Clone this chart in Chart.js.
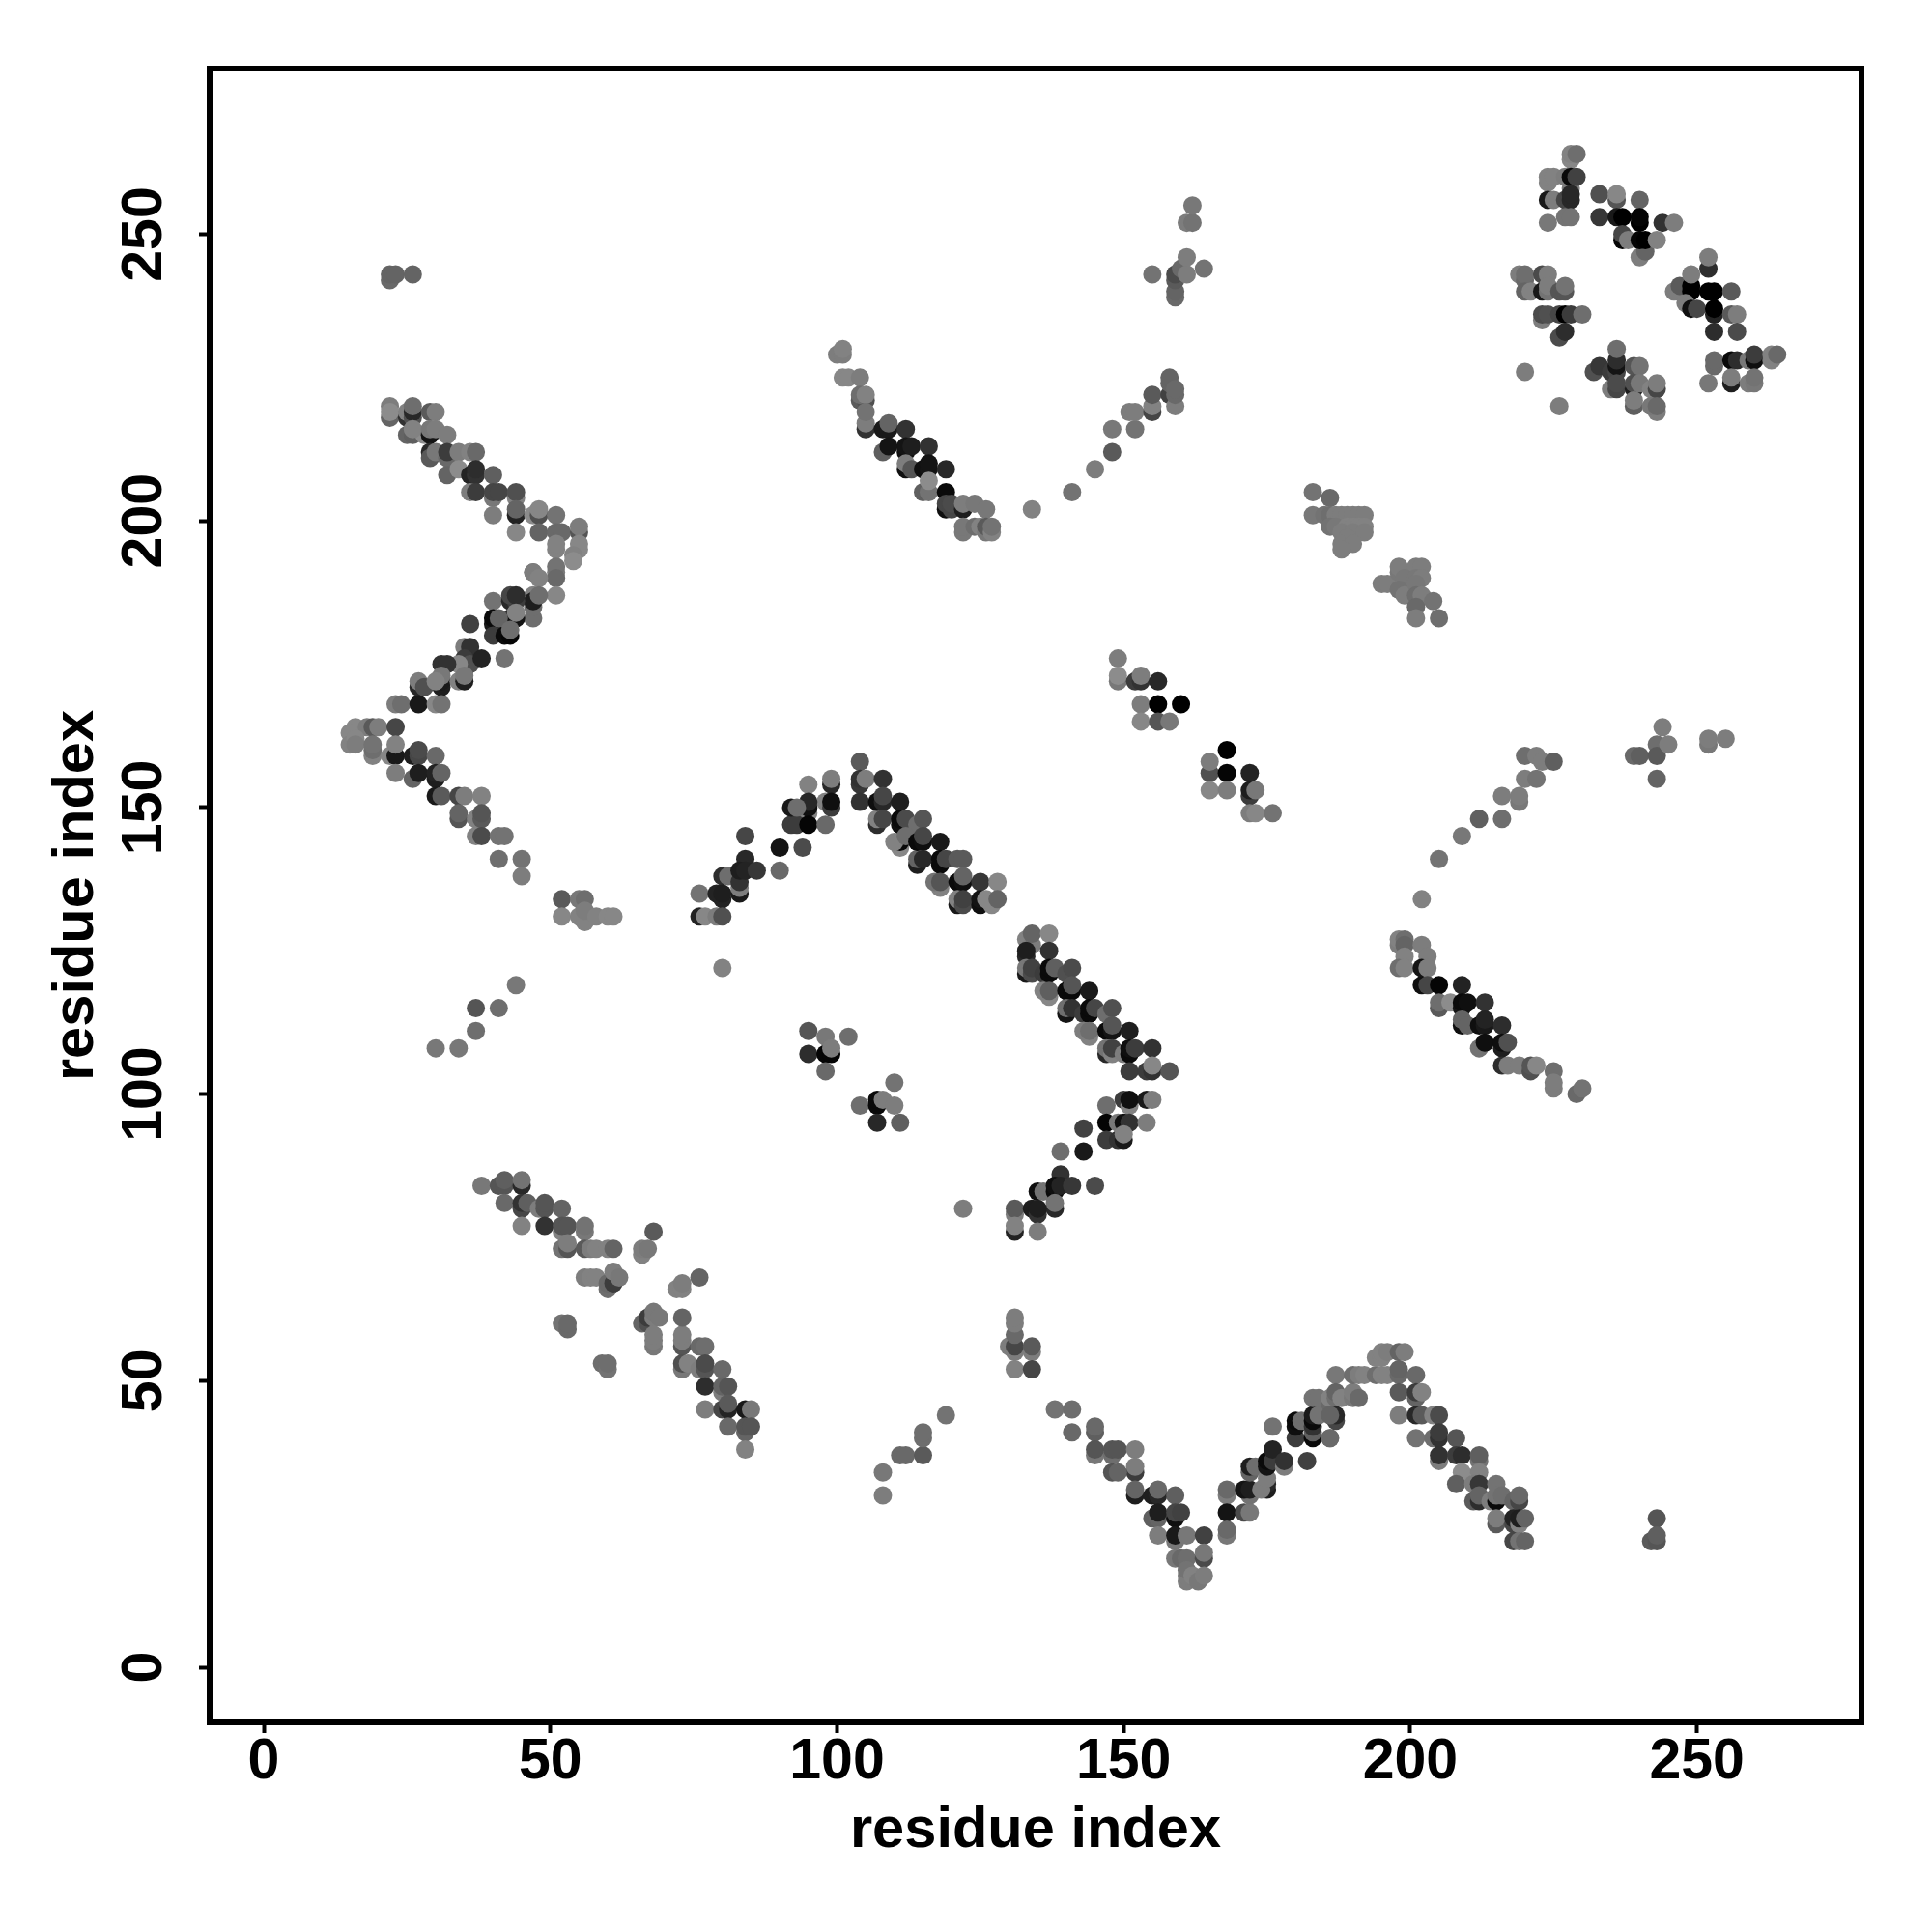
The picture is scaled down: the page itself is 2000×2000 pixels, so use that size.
<!DOCTYPE html>
<html>
<head>
<meta charset="utf-8">
<title>residue contact map</title>
<script src="https://cdn.jsdelivr.net/npm/chart.js@4/dist/chart.umd.min.js"></script>
<style>
  html, body { margin: 0; padding: 0; background: #fff; }
  canvas { display: block; }
</style>
</head>
<body>
<canvas id="contactMap" width="2000" height="2000"></canvas>
<script>
// every contact is [residue i, residue j, gray level], later rows sit on top
const tickValues = [0, 50, 100, 150, 200, 250];
const axisTitle = "residue index";

const topLeftBlob = [[22,242,105],[22,243,100],[23,243,100],[26,243,100]];

const upperLeftArm = [
  [22,218,100],[22,220,125],[22,219,140],[25,218,50],[25,219,130],[26,218,80],[26,219,40],[26,220,110],
  [25,215,100],[26,215,95],[28,215,140],[26,216,130],[29,219,90],[30,219,125],[29,215,20],[29,216,120],[30,216,125],
  [32,215,125],[29,212,40],[29,211,90],[30,212,120],[32,211,105],[32,212,60],[34,212,125],[36,212,130],[37,212,105],
  [32,208,100],[34,209,140],[36,208,35],[37,208,50],[37,209,45],[40,208,95],[36,205,125],[37,205,60],
  [40,204,120],[40,205,70],[41,205,70],[44,204,130],[44,205,80],[40,201,125],[44,201,35],[44,202,100],[44,198,135],
  [47,201,140],[48,201,80],[48,202,135],[51,201,115],[48,198,100],[51,198,105],[52,198,105],[55,198,85],[55,199,125],
  [51,195,130],[51,196,130],[55,195,135],[55,196,135],[54,194,130],[47,191,120],[51,191,125],[51,192,115]
];

const lowerLeftArm = [
  [51,190,105],[47,191,125],[48,190,130],[54,193,140],[51,187,135],[47,187,130],[47,183,110],[47,185,110],[47,186,30],[48,187,110],
  [40,186,115],[44,183,20],[43,183,15],[43,186,40],[44,186,60],[43,187,70],[44,187,45],[44,184,130],
  [40,182,25],[40,183,10],[41,183,100],[40,180,60],[42,180,10],[43,180,5],[43,181,110],[36,182,65],
  [35,178,125],[36,178,50],[42,176,115],[35,174,25],[35,175,20],[35,176,60],[36,175,80],[38,176,35],[34,175,135],
  [31,175,50],[32,175,50],[31,171,30],[31,172,25],[31,173,120],[34,172,130],[35,172,30],[35,173,120],
  [27,171,40],[27,172,125],[28,171,80],[30,172,130],[23,168,125],[24,168,110],[27,168,25],[30,168,135],[31,168,115],
  [16,164,135],[15,163,135],[18,164,125],[19,164,90],[20,164,125],[23,164,70],[15,161,130],[16,162,135],[16,161,125],
  [19,159,130],[19,160,110],[19,161,115],[22,159,135],[23,159,25],[23,161,130],[26,159,30],[27,159,70],[27,160,75],[30,159,105],
  [23,156,125],[26,155,100],[27,156,30],[30,155,30],[30,156,35],[31,156,100],[30,152,25],[31,152,90],[34,152,70],[35,152,125],[38,152,130],
  [34,148,85],[34,149,100],[37,148,130],[38,148,90],[38,149,85],[37,145,130],[38,145,75],[41,145,115],[42,145,115],
  [41,141,110],[45,141,115],[45,138,125]
];

const leftStray = [
  [30,108,120],[34,108,120],[37,111,110],[37,115,85],[41,115,110],[44,119,120],
  [52,134,90],[55,134,120],[56,134,110],[52,131,135],[55,131,130],[56,130,130],[56,132,125],[58,131,130],[60,131,135],[61,131,135]
];

const centerPeakLeft = [
  [99,154,40],[99,155,125],[95,154,130],[98,151,130],[99,150,60],[99,151,15],[95,149,130],[95,150,15],[95,151,40],
  [92,147,60],[93,147,60],[92,150,25],[93,150,110],[95,147,5],[98,147,105],[84,145,70],[90,143,20],[94,143,75],[90,139,105],
  [84,141,40],[80,138,45],[81,138,110],[83,135,25],[83,136,125],[83,137,50],[83,139,30],[84,139,35],[86,139,55],
  [76,135,115],[79,135,35],[80,134,35],[80,135,30],[76,131,35],[77,131,135],[79,131,125],[80,131,80],[80,122,130]
];

const centerPeakRight = [
  [104,158,90],[104,154,55],[104,155,50],[105,155,125],[104,151,50],[108,155,50],
  [107,147,45],[107,148,130],[107,151,15],[108,151,40],[108,152,70],[111,151,30],[108,148,70],
  [111,147,15],[111,148,10],[112,148,75],[114,147,110],[115,148,85],[111,143,135],[111,144,10],[110,144,130],[112,145,110],
  [114,140,30],[114,141,100],[114,144,10],[115,144,15],[115,145,70],[118,144,25],[115,141,40],
  [118,140,10],[118,141,10],[119,141,70],[121,141,90],[122,141,90],[118,136,130],[117,137,115],[118,137,85],
  [121,137,10],[122,137,15],[122,138,100],[125,137,55],[128,137,135],[121,133,25],[121,134,130],[122,133,75],[122,134,65],
  [125,133,15],[125,134,20],[127,133,135],[126,134,135],[128,134,100]
];

const centerStray = [
  [95,111,85],[98,110,120],[102,110,110],[95,107,45],[98,107,5],[99,107,5],[99,108,125],[98,104,105],
  [110,102,115],[104,98,110],[107,98,10],[107,99,10],[108,99,125],[110,98,125],[107,95,40],[111,95,95]
];

const diagonalRun = [
  [133,127,130],[134,126,125],[134,128,100],[137,128,135],[133,124,40],[133,125,30],[137,125,50],
  [133,121,25],[133,122,120],[134,121,75],[134,122,65],[136,121,60],[137,121,10],[137,122,10],[138,122,95],
  [140,121,80],[141,122,75],[137,117,135],[136,118,130],[137,118,95],[140,118,10],[141,118,10],[141,119,85],[144,118,25],
  [140,114,20],[140,115,110],[141,115,50],[143,114,60],[144,114,10],[144,115,10],[145,115,70],[147,114,110],[148,115,80],
  [144,110,130],[143,111,125],[144,111,110],[147,111,10],[148,111,20],[148,112,85],[151,111,30],
  [147,107,40],[147,108,115],[148,107,130],[148,108,65],[150,107,125],[151,107,10],[151,108,15],[152,108,60],[155,108,50],
  [151,104,60],[154,104,60],[155,104,50],[155,105,135],[158,104,85]
];

const diagonalReturn = [
  [147,98,110],[150,99,60],[151,98,130],[151,99,15],[154,99,25],[155,99,125],[147,95,5],[149,95,120],[150,95,15],[151,95,50],[154,95,125],
  [147,92,60],[149,92,50],[150,92,25],[150,93,130],[143,94,65],[143,90,25],[139,90,110],[145,84,75],[139,86,50],
  [135,83,15],[136,83,115],[138,83,10],[138,84,15],[139,84,35],[141,84,55],[138,80,40],[138,81,115],
  [131,79,125],[131,80,90],[134,80,30],[135,79,50],[135,80,30],[131,76,35],[131,77,130],[135,76,125],[122,80,125]
];

const upperValley = [
  [100,229,125],[101,229,125],[101,230,130],[101,225,135],[102,225,135],[104,225,125],[104,221,90],[105,221,80],[104,222,110],[105,222,130],
  [105,216,50],[105,217,125],[105,219,115],[108,216,25],[109,216,25],[109,217,100],[112,216,50],
  [108,212,95],[109,213,20],[112,212,15],[112,213,20],[113,213,30],[116,213,50],[112,209,15],[112,210,125],[113,209,85],
  [115,209,15],[116,209,20],[116,210,20],[119,209,40],[115,205,95],[116,205,115],[116,207,140],[119,205,10],
  [119,202,15],[119,203,70],[120,202,70],[120,203,75],[122,202,30],[122,203,125],[124,203,120],[126,202,120],
  [122,198,120],[122,199,120],[124,199,110],[125,199,130],[126,198,120],[126,199,90],[127,198,130],[127,199,115],
  [134,202,130],[141,205,115],[145,209,125],[148,212,90],[148,216,120],[152,216,115],[151,219,125],[152,219,125],
  [155,219,70],[155,220,130],[155,222,90],[158,222,65],[158,224,100],[158,225,100],[159,220,125],[159,222,105],[159,223,105]
];

const upperTip = [
  [155,243,115],[159,239,105],[159,240,100],[159,242,90],[159,243,75],[160,244,105],[161,243,125],[161,246,125],
  [164,244,115],[161,252,125],[162,252,115],[162,255,120]
];

const midUpperPatch = [
  [183,205,115],[186,204,105],[183,201,120],[185,201,115],[186,201,110],[187,201,125],[188,201,125],[189,201,125],[190,201,125],[191,201,125],[192,201,125],
  [186,199,115],[187,199,120],[189,199,130],[190,199,130],[191,199,130],[192,199,130],[188,198,125],[190,198,125],[192,198,125],[189,197,125],[188,196,125],[190,196,125],[188,195,125],
  [195,189,125],[196,189,125],[198,191,120],[198,192,125],[201,192,125],[202,192,125],[199,190,120],[201,190,120],[202,190,125],
  [198,188,115],[199,187,125],[201,189,120],[201,187,110],[202,187,125],[201,185,105],[204,186,115],[201,183,125],[205,183,110]
];

const midPatches = [
  [149,176,125],[149,172,120],[149,173,140],[152,172,60],[153,172,50],[153,173,125],[156,172,40],
  [153,168,125],[156,168,0],[160,168,0],[153,165,135],[156,165,85],[158,165,120],
  [168,160,0],[165,156,80],[165,158,125],[168,156,5],[172,156,35],[165,153,135],[168,153,125],
  [172,152,60],[172,153,30],[173,153,120],[172,149,125],[173,149,135],[176,149,115]
];

const rightArc = [
  [252,161,120],[252,162,125],[255,162,125],[244,164,125],[243,161,110],[243,155,100],[239,159,105],[240,159,95],[243,159,90],[245,161,125],
  [220,159,110],[222,159,125],[223,158,125],[225,158,95],[220,155,125],[222,155,115],[219,151,120],[219,152,125],[216,152,125],
  [216,148,110],[212,148,95],[209,145,120],[205,141,115],[202,134,130]
];

const rightDiagonal = [
  [198,126,125],[198,127,130],[199,127,110],[199,126,100],[199,124,130],[198,122,110],[199,122,130],[202,126,125],[203,124,125],
  [202,119,15],[202,122,20],[203,122,125],[203,119,70],[205,119,5],[205,115,90],[205,116,110],[207,116,140],[209,119,35],
  [209,115,20],[209,116,10],[210,116,15],[213,116,50],[209,112,15],[209,113,100],[210,112,100],[212,112,15],[213,112,25],[213,113,35],[216,112,45],
  [212,108,115],[213,109,15],[216,108,30],[216,109,15],[217,109,80],[216,105,45],[217,105,125],[219,105,125],[221,104,80],[221,105,85],[222,105,135],
  [225,104,110],[225,101,125],[225,102,125],[229,100,105],[230,101,115]
];

const cornerTop = [
  [228,263,135],[228,264,130],[229,264,110],[224,259,130],[224,260,130],[225,260,130],[227,260,125],[228,258,125],[228,260,10],[229,260,65],
  [224,256,25],[225,256,125],[227,256,70],[228,256,40],[228,257,40],[224,252,120],[227,253,115],[228,253,115],
  [233,257,80],[236,256,85],[236,257,135],[240,256,100],[233,253,55],[236,253,25],[237,253,0],[240,252,0],[240,253,5],[244,252,50],[246,252,125],
  [237,249,5],[237,250,70],[238,249,125],[240,246,125],[241,247,100],[240,249,5],[241,249,0],[243,249,130]
];

const cornerRight = [
  [252,244,45],[252,246,125],[246,240,125],[247,241,90],[249,240,0],[249,241,0],[249,243,125],[252,240,0],[253,240,0],[256,240,90],
  [248,238,125],[249,237,15],[250,237,70],[253,236,35],[253,237,0],[256,236,90],[257,236,125],[253,233,45],[257,233,75]
];

const cornerLeft = [
  [219,243,125],[220,242,105],[220,243,110],[223,243,75],[224,243,125],[220,240,100],[221,240,130],[223,240,25],[224,240,115],[224,241,125],
  [226,240,85],[227,240,85],[227,241,115],[223,235,125],[223,236,75],[224,236,80],[226,236,70],[227,236,0],[228,236,60],[230,236,110],
  [226,232,75],[227,233,45],[220,226,125],[226,220,125]
];

const cornerBottom = [
  [232,226,80],[233,227,55],[235,226,60],[236,226,70],[236,227,20],[236,228,45],[236,230,110],[239,227,85],[240,227,115],
  [235,223,125],[236,223,70],[236,224,75],[239,223,30],[239,224,80],[240,224,120],[242,223,130],[243,223,70],[243,224,125],
  [239,220,95],[239,221,125],[243,219,125],[242,220,120],[243,220,105],
  [253,227,105],[253,228,105],[256,228,10],[257,228,45],[259,228,120],[260,228,15],[260,229,60],[263,228,130],[263,229,130],[264,229,105],
  [252,224,120],[256,224,30],[256,225,125],[259,224,125],[260,224,120],[260,225,115]
];

const lowerLeftBand = [
  [38,84,120],[41,84,85],[42,84,85],[42,85,95],[45,84,40],[45,85,115],[42,81,105],[45,80,70],[45,81,50],[46,81,95],[48,80,125],[49,80,85],[49,81,85],[52,80,100],
  [45,77,130],[49,77,50],[52,76,130],[52,77,85],[53,77,85],[56,76,120],[56,77,115],[52,73,115],[53,73,85],[53,74,125],[56,73,90],[57,73,125],[58,73,130],[60,73,130],[61,73,100],
  [56,68,125],[57,68,130],[58,68,130],[60,66,110],[60,67,105],[61,67,60],[61,69,125],[62,68,120],
  [52,60,115],[53,59,105],[53,60,105],[59,53,110],[60,52,115],[60,53,110],
  [68,76,90],[66,72,130],[66,73,125],[67,73,120],[76,68,100],[72,66,130],[73,66,130],[73,67,125],
  [66,60,100],[67,60,80],[67,61,60],[68,61,125],[68,62,120],[69,61,120],[68,56,120],[68,57,125],[68,58,125],
  [73,56,85],[73,57,125],[73,58,125],[73,61,100],[76,56,105],[77,56,110],[73,52,120],[73,53,80],[74,53,130],[76,52,125],[77,52,85],[77,53,75],[80,52,105],
  [77,49,45],[80,48,125],[80,49,100],[81,49,85],[77,45,125],[80,45,70],[81,45,35],[81,46,90],[84,45,25],[85,45,120],
  [81,42,105],[84,41,100],[84,42,85],[85,42,85],[84,38,130]
];

const lowerMiddleStray = [
  [108,34,120],[108,30,125],[111,37,105],[112,37,105],[115,37,90],[115,40,110],[115,41,110],[119,44,115]
];

const lowerValley = [
  [130,56,125],[131,55,125],[131,56,70],[131,58,105],[131,60,125],[131,61,125],[134,55,125],[134,56,90],[131,52,130],[134,52,70],
  [138,45,115],[141,45,110],[141,41,105],[145,41,95],[145,42,105],[145,37,120],[145,38,85],[148,37,110],[148,38,85],[149,38,85],[152,38,125],
  [152,34,60],[152,35,125],[148,34,85],[149,34,100],[152,30,30],[152,31,100],[155,30,30],[156,30,40],[156,31,105],[159,30,95],
  [155,26,95],[156,26,100],[156,27,30],[159,26,15],[159,27,70],[160,27,65],[156,23,125],[159,22,120],[159,23,25],[161,23,120],[164,23,65],
  [159,19,120],[160,19,105],[161,19,110],[164,19,75],[164,20,120],[161,15,125],[161,16,125],[161,17,115],[162,16,130],[163,15,120],[164,16,125],
  [168,30,125],[168,31,105],[168,27,20],[168,23,120],[168,24,105],[171,27,75],[172,27,120],[172,30,115],[171,31,20],[172,31,30],
  [175,31,30],[175,32,40],[174,31,125],[172,34,100],[172,35,30],[173,35,110],[175,33,125],[175,35,20],[175,36,10],[176,36,60],[176,38,35],[178,35,125],[178,36,50],
  [176,42,115],[182,36,65],[180,40,60],[180,42,15],[180,43,10],[181,43,110],[183,40,10],[183,41,95],[183,42,50],[183,43,10],[183,44,25],[184,44,115],[186,40,125]
];

const lowerRightRun = [
  [183,47,115],[184,47,115],[186,46,105],[186,47,130],[187,47,110],[187,51,120],[187,48,100],[188,47,130],[187,43,70],[187,44,40],[186,44,100],[186,40,105],
  [190,47,120],[190,48,125],[191,47,105],[190,51,110],[191,51,125],[192,51,130],[194,51,110],[195,51,130],[196,51,130],
  [194,54,130],[195,54,130],[195,55,130],[196,55,125],[198,55,100],[199,55,125],[198,51,105],[198,52,100],
  [201,51,105],[198,48,90],[201,47,100],[201,48,60],[202,48,130],[198,44,125],[201,44,40],[202,44,90],[204,44,130],[205,44,75],
  [201,40,115],[204,40,110],[205,40,50],[205,41,60],[208,40,85],[205,36,125],[205,37,50],[208,37,60],[209,37,45],[212,36,115],[212,37,95],
  [209,34,140],[212,34,130],[208,32,95],[211,32,125],[212,32,55],[215,32,115],[211,29,90],[212,29,45],[212,30,100],
  [214,29,125],[215,29,10],[215,30,115],[216,30,110],[218,29,100],[219,29,70],[219,30,105],
  [215,25,90],[215,26,125],[218,25,70],[218,26,35],[219,25,130],[219,26,30],[220,26,100],[218,22,70],[219,22,115],[220,22,100],
  [243,26,85],[242,22,90],[243,22,85],[243,23,95]
];

const contacts = [
  ...topLeftBlob, ...upperLeftArm, ...lowerLeftArm, ...leftStray, ...centerPeakLeft, ...centerPeakRight, ...centerStray,
  ...diagonalRun, ...diagonalReturn, ...upperValley, ...upperTip, ...midUpperPatch, ...midPatches, ...rightArc, ...rightDiagonal,
  ...cornerTop, ...cornerRight, ...cornerLeft, ...cornerBottom, ...lowerLeftBand, ...lowerMiddleStray, ...lowerValley, ...lowerRightRun
];

const labelFont = { family: "'Liberation Sans'", weight: "bold", size: 59 };

// y tick labels are turned 90 degrees and centred on the tick, chart.js can't centre them on its own
const rotatedYLabels = {
  id: "rotatedYLabels",
  afterDraw(chart) {
    const ctx = chart.ctx;
    const yScale = chart.scales.y;
    ctx.save();
    ctx.fillStyle = "#000";
    ctx.font = "bold 59px 'Liberation Sans'";
    ctx.textAlign = "center";
    ctx.textBaseline = "middle";
    tickValues.forEach((v) => {
      ctx.save();
      ctx.translate(151, yScale.getPixelForValue(v));
      ctx.rotate(-Math.PI / 2);
      ctx.fillText(String(v), 0, 0);
      ctx.restore();
    });
    ctx.restore();
  },
};

const plotBox = {
  id: "plotBox",
  afterDatasetsDraw(chart) {
    const { ctx, chartArea } = chart;
    ctx.save();
    ctx.strokeStyle = "#000";
    ctx.lineWidth = 6;
    ctx.strokeRect(chartArea.left, chartArea.top, chartArea.right - chartArea.left, chartArea.bottom - chartArea.top);
    ctx.restore();
  },
};

const setTicks = (scale) => { scale.ticks = tickValues.map((value) => ({ value })); };
const tickGrid = { display: true, drawOnChartArea: false, drawTicks: true, tickLength: 11, tickWidth: 4, tickColor: "#000" };

new Chart(document.getElementById("contactMap").getContext("2d"), {
  type: "scatter",
  data: {
    datasets: [{
      label: "contacts",
      data: contacts.map((c) => ({ x: c[0], y: c[1] })),
      pointBackgroundColor: contacts.map((c) => `rgb(${c[2]},${c[2]},${c[2]})`),
      pointBorderWidth: 0,
      pointRadius: 9.5,
    }],
  },
  options: {
    responsive: false,
    animation: false,
    layout: { padding: { top: 71, right: 73, left: 0, bottom: 0 } },
    plugins: { legend: { display: false }, tooltip: { enabled: false } },
    scales: {
      x: {
        type: "linear",
        min: -9.44,
        max: 278.7,
        afterBuildTicks: setTicks,
        afterFit(scale) { scale.height = 217; },
        grid: tickGrid,
        border: { display: false },
        ticks: { color: "#000", font: labelFont, padding: -5, maxRotation: 0, autoSkip: false },
        title: { display: true, text: axisTitle, color: "#000", font: { ...labelFont, size: 59.6 }, padding: { top: 0, bottom: 69 } },
      },
      y: {
        type: "linear",
        min: -9.6,
        max: 278.9,
        afterBuildTicks: setTicks,
        afterFit(scale) { scale.width = 217; },
        grid: tickGrid,
        border: { display: false },
        ticks: { display: false, autoSkip: false },
        title: { display: true, text: axisTitle, color: "#000", font: { ...labelFont, size: 59.6 }, padding: { top: 44, bottom: 0 } },
      },
    },
  },
  plugins: [rotatedYLabels, plotBox],
});
</script>
</body>
</html>
